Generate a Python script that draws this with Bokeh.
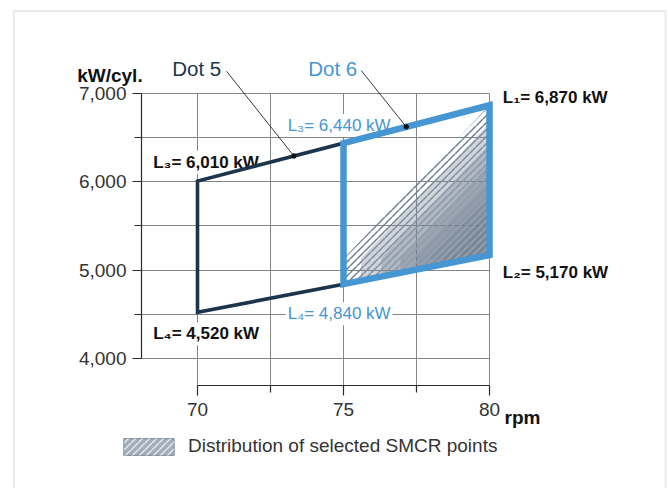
import numpy as np
from urllib.parse import quote
from bokeh.plotting import figure
from bokeh.models import (Range1d, FixedTicker, NumeralTickFormatter, Label,
                          BoxAnnotation, Legend, LegendItem, ImageURLTexture)
from bokeh.embed import file_html
from bokeh.resources import INLINE

# ---- data ----
dot5_rpm = [75, 70, 70, 75]
dot5_kw = [4840, 4520, 6010, 6440]
dot6_rpm = [75, 75, 80, 80]
dot6_kw = [4840, 6440, 6870, 5170]
smcr_rpm = [75, 75, 80, 80]
smcr_kw = [4840, 5130, 6870, 5170]
callout_rpm = [73.3, 77.15]
callout_kw = [6295, 6625]
y_major = [4000, 5000, 6000, 7000]
y_minor = [4500, 5500, 6500]
x_major = [70, 75, 80]
x_minor = [72.5, 77.5]
series_names = ["Dot 5", "Dot 6"]
legend_text = "Distribution of selected SMCR points"

DARK = "#1c354c"
BLUE = "#4596d3"
HATCH = "#6f8093"
FONT = "Liberation Sans"

W, H = 668, 488
PX_PER_RPM = 29.2
PX_PER_KW = 0.08813
X0 = 70 - 197 / PX_PER_RPM            # data x at the left canvas edge
Y1 = 7000 + 93.3 / PX_PER_KW          # data y at the top canvas edge


def X(px):  # canvas pixel -> data x (for annotation placement)
    return X0 + px / PX_PER_RPM


def Y(py):  # canvas pixel -> data y (for annotation placement)
    return Y1 - py / PX_PER_KW


def stripe_texture(color, opacity, size=7, width=1.5):
    svg = (f"<svg xmlns='http://www.w3.org/2000/svg' width='{size}' height='{size}'>"
           f"<path d='M{-size},{size} L0,0 M0,{size} L{size},0 M{size},{size} L{2*size},0' "
           f"stroke='{color}' stroke-opacity='{opacity}' stroke-width='{width}' fill='none'/></svg>")
    return ImageURLTexture(url="data:image/svg+xml;charset=utf-8," + quote(svg))


TEX = {"gray": stripe_texture(HATCH, 1.0),
       "white": stripe_texture("#ffffff", 0.13),
       "legend": stripe_texture("#ffffff", 0.7)}

p = figure(width=W, height=H, title=None,
           x_range=Range1d(X0, X(W)), y_range=Range1d(Y(H), Y1),
           output_backend="svg", toolbar_location=None, min_border=0)
p.outline_line_color = None
p.background_fill_color = "white"
p.border_fill_color = "white"

# axes (placed at fixed data locations)
p.yaxis.fixed_location = X(141)
p.xaxis.fixed_location = Y(385)
p.xaxis.bounds = (70, 80)
p.yaxis.bounds = (4000, 7000)
p.xaxis.ticker = FixedTicker(ticks=x_major, minor_ticks=x_minor)
p.yaxis.ticker = FixedTicker(ticks=y_major, minor_ticks=y_minor)
p.yaxis.formatter = NumeralTickFormatter(format="0,0")
for ax in (p.xaxis, p.yaxis):
    ax.axis_line_color = "#2a2a2a"
    ax.axis_line_width = 1.2
    ax.major_tick_line_color = "#2a2a2a"
    ax.minor_tick_line_color = "#2a2a2a"
    ax.major_tick_line_width = 1.2
    ax.minor_tick_line_width = 1.2
    ax.major_tick_in = 0
    ax.minor_tick_in = 0
    ax.major_tick_out = 10
    ax.minor_tick_out = 7
    ax.major_label_text_font = FONT
    ax.major_label_text_font_size = "19px"
    ax.major_label_text_color = "#333333"
p.yaxis.major_tick_out = 9
p.xaxis.major_label_standoff = 7
p.yaxis.major_label_standoff = 6

# grid
p.xgrid.ticker = FixedTicker(ticks=x_major + x_minor)
p.ygrid.ticker = FixedTicker(ticks=y_major + y_minor)
p.xgrid.cross_bounds = (Y(385), 7000)
p.ygrid.cross_bounds = (X(141), 80)
for g in (p.xgrid, p.ygrid):
    g.grid_line_color = "#858585"
    g.grid_line_width = 1


def add_label(px, py, text, color="#111111", size="17px", bold=True, bg=False):
    lab = Label(x=X(px), y=Y(py), text=text, text_font=FONT, text_font_size=size,
                text_font_style="bold" if bold else "normal", text_color=color,
                text_align="left", text_baseline="alphabetic")
    if bg:
        lab.background_fill_color = "white"
        lab.padding = 2
        lab.level = "underlay"
    p.add_layout(lab)


fmt = lambda n, v: f"{n}= {v:,} kW"
add_label(150.7, 161.7, fmt("L₃", dot5_kw[2]), bg=True)
add_label(150.7, 333.3, fmt("L₄", dot5_kw[1]), bg=True)
add_label(285.3, 125.0, fmt("L₃", dot6_kw[1]), color=BLUE, bold=False, bg=True)
add_label(285.3, 313.3, fmt("L₄", dot6_kw[0]), color=BLUE, bold=False, bg=True)
add_label(502.3, 96.7, fmt("L₁", dot6_kw[2]))
add_label(502.3, 271.7, fmt("L₂", dot6_kw[3]))

# hatched SMCR area, darkening towards the lower right corner
p.patch(smcr_rpm, smcr_kw, fill_color=None, line_color=None,
        hatch_pattern="gray", hatch_extra=TEX)
sx = np.array(smcr_rpm, dtype=float)
sy = np.array(smcr_kw, dtype=float)
cx, cy = sx[3], sy[3]
for f in [0.88, 0.74, 0.61, 0.5, 0.4, 0.31, 0.23]:
    lx, ly = cx + f * (sx - cx), cy + f * (sy - cy)
    p.patch(lx, ly, fill_color=HATCH, fill_alpha=0.33, line_color=None)
    p.patch(lx, ly, fill_color=None, line_color=None,
            hatch_pattern="white", hatch_extra=TEX)

# outlines
p.patch(dot5_rpm, dot5_kw, fill_color=None, line_color=DARK, line_width=3.6,
        line_join="miter")
p.patch(dot6_rpm, dot6_kw, fill_color=None, line_color=BLUE, line_width=6.5,
        line_join="miter")

# callouts
p.segment(x0=[X(226), X(360.7)], y0=[Y(70.7), Y(70.0)], x1=callout_rpm, y1=callout_kw,
          line_color="#222222", line_width=0.9)
p.scatter(callout_rpm, callout_kw, size=4.5, color="#111111")
add_label(171.7, 68.3, series_names[0], color=DARK, size="20.5px", bold=False)
add_label(307.7, 68.3, series_names[1], color=BLUE, size="20.5px", bold=False)

# axis titles
add_label(76.7, 75.0, "kW/cyl.", size="19px")
add_label(504.0, 416.7, "rpm", size="19px")

# legend key: renderers with no drawable geometry, shown only in the legend
nan = np.array([np.nan])
leg_fill = p.patch(nan, nan, fill_color="#a3aeba", line_color="#7d8a97", line_width=1)
leg_hatch = p.patch(nan, nan, fill_color=None, line_color=None,
                    hatch_pattern="legend", hatch_extra=TEX)
legend = Legend(items=[LegendItem(label=legend_text, renderers=[leg_fill, leg_hatch])],
                location=(117, H - 457), glyph_width=63, glyph_height=21,
                label_standoff=8, label_text_font=FONT, label_text_font_size="19px",
                label_text_color="#333333", padding=0, margin=0, spacing=0,
                border_line_color=None, background_fill_alpha=0, label_height=21)
p.add_layout(legend)

# outer frame
p.add_layout(BoxAnnotation(left=X(13.5), right=X(665), top=Y(10.5), bottom=Y(H + 20),
                           fill_alpha=0, line_color="#b4bdc7", line_width=2))

open("out.html", "w").write(file_html(p, INLINE))
